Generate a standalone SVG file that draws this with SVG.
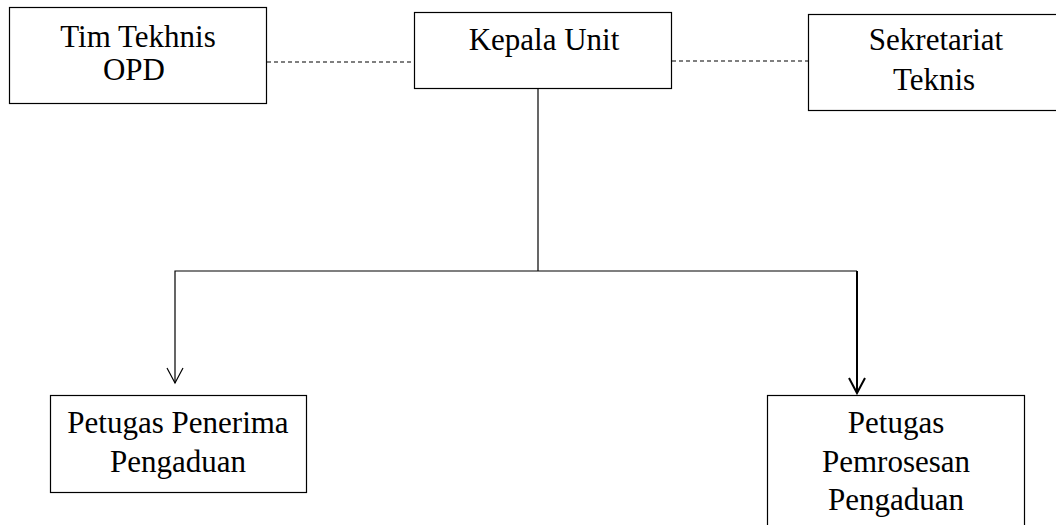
<svg xmlns="http://www.w3.org/2000/svg" width="1056" height="525" viewBox="0 0 1056 525">
<style>
.box{fill:#fff;stroke:#000;stroke-width:1.2}
.t{font-family:"Liberation Serif","Times New Roman",serif;font-size:31px;fill:#000;text-anchor:middle}
.c{fill:none;stroke:#000;stroke-width:1.2}
.d{fill:none;stroke:#000;stroke-width:1.1;stroke-dasharray:4 3}
</style>
<rect width="1056" height="525" fill="#fff"/>
<g id="connectors">
<line class="d" x1="267" y1="62" x2="415" y2="62"/>
<line class="d" x1="672" y1="61" x2="808" y2="61"/>
<polyline class="c" points="538,88 538,271"/>
<polyline class="c" points="175,383 175,271 857,271"/>
<polyline class="c" points="167,368 175,383 183,368"/>
<line x1="857" y1="271" x2="857" y2="393" stroke="#000" stroke-width="2"/>
<polyline points="849,378 857,393 865,378" fill="none" stroke="#000" stroke-width="2"/>
</g>
<g id="tim"><rect class="box" x="9.5" y="7.5" width="257" height="96"/><text class="t" x="138" y="47">Tim Tekhnis</text><text class="t" x="134" y="80">OPD</text></g>
<g id="kepala"><rect class="box" x="414.5" y="12.5" width="257" height="76"/><text class="t" x="544" y="50">Kepala Unit</text></g>
<g id="sekretariat"><rect class="box" x="808.5" y="14.5" width="260" height="96"/><text class="t" x="936" y="50">Sekretariat</text><text class="t" x="934" y="90">Teknis</text></g>
<g id="penerima"><rect class="box" x="50.5" y="395.5" width="256" height="97"/><text class="t" x="178" y="433">Petugas Penerima</text><text class="t" x="178" y="472">Pengaduan</text></g>
<g id="pemrosesan"><rect class="box" x="767.5" y="395.5" width="257" height="140"/><text class="t" x="896" y="433">Petugas</text><text class="t" x="896" y="472">Pemrosesan</text><text class="t" x="896" y="510">Pengaduan</text></g>
</svg>
